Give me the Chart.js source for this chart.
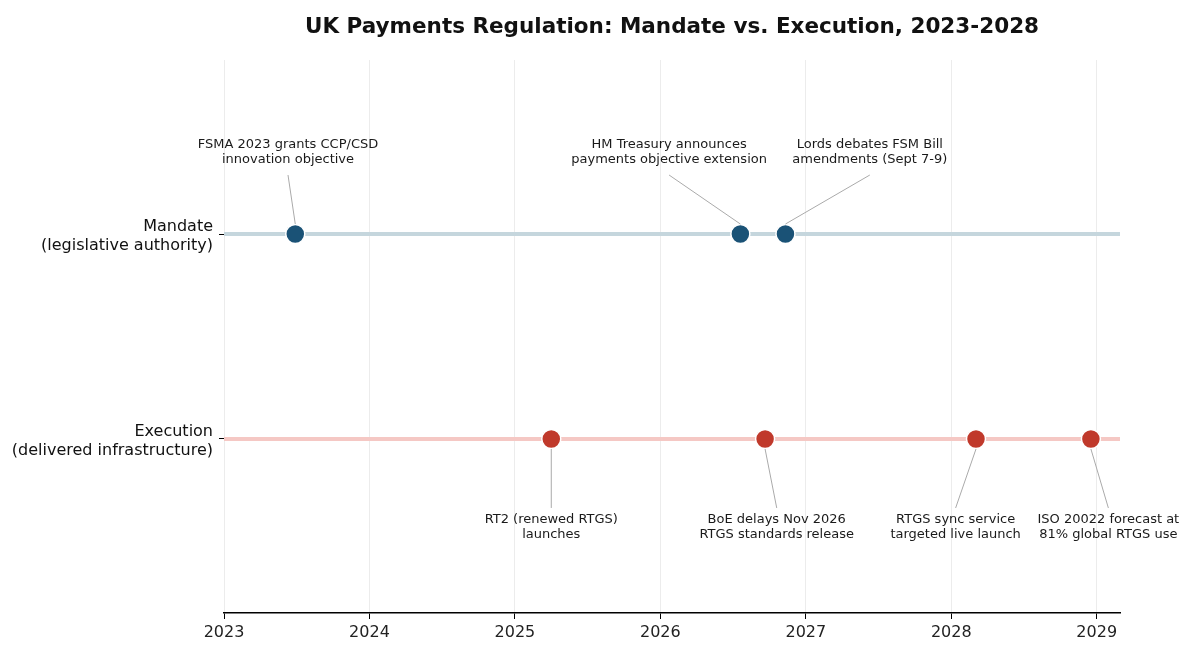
<!DOCTYPE html>
<html>
<head>
<meta charset="utf-8">
<script src="https://cdn.jsdelivr.net/npm/chart.js@4/dist/chart.umd.min.js"></script>
<style>
html,body{margin:0;padding:0;background:#fff;}
#wrap{width:1200px;height:660px;}
</style>
</head>
<body>
<div id="wrap"><canvas id="c" width="1200" height="660"></canvas></div>
<script>
// ---- data ----
const TITLE = "UK Payments Regulation: Mandate vs. Execution, 2023-2028";
const yearTicks = [2023, 2024, 2025, 2026, 2027, 2028, 2029];
const trackNames = ["Mandate", "Execution"];
const trackLabels = [["Mandate", "(legislative authority)"], ["Execution", "(delivered infrastructure)"]];
const xMin = 2023;
const xMax = 2029.16;

const mandateDates = [2023.49, 2026.55, 2026.86];
const mandateEvents = [
  ["FSMA 2023 grants CCP/CSD", "innovation objective"],
  ["HM Treasury announces", "payments objective extension"],
  ["Lords debates FSM Bill", "amendments (Sept 7-9)"]
];
const executionDates = [2025.25, 2026.72, 2028.17, 2028.96];
const executionEvents = [
  ["RT2 (renewed RTGS)", "launches"],
  ["BoE delays Nov 2026", "RTGS standards release"],
  ["RTGS sync service", "targeted live launch"],
  ["ISO 20022 forecast at", "81% global RTGS use"]
];
// label anchor x (in years) for each annotation
const mandateLabelX = [2023.44, 2026.06, 2027.44];
const executionLabelX = [2025.25, 2026.80, 2028.03, 2029.08];

// ---- styles ----
const MAND_COLOR = "#1a5276";
const EXEC_COLOR = "#c0392b";
const MAND_TRACK = "#c5d6dd";
const EXEC_TRACK = "#f5c8c4";
const FONT = "'DejaVu Sans', sans-serif";

const yMand = 1, yExec = 0;

const annotationPlugin = {
  id: 'ann',
  afterDatasetsDraw(chart) {
    const ctx = chart.ctx;
    const xs = chart.scales.x, ys = chart.scales.y;
    ctx.save();
    ctx.font = "13px " + FONT;
    ctx.textAlign = "center";
    ctx.textBaseline = "middle";
    mandateDates.forEach((d, i) => {
      const px = xs.getPixelForValue(d), py = ys.getPixelForValue(yMand);
      const lx = xs.getPixelForValue(mandateLabelX[i]);
      ctx.strokeStyle = "#aaaaaa"; ctx.lineWidth = 1;
      ctx.beginPath(); ctx.moveTo(lx, py - 59); ctx.lineTo(px, py - 10); ctx.stroke();
      ctx.fillStyle = "#1a1a1a";
      ctx.fillText(mandateEvents[i][0], lx, py - 89);
      ctx.fillText(mandateEvents[i][1], lx, py - 74);
    });
    executionDates.forEach((d, i) => {
      const px = xs.getPixelForValue(d), py = ys.getPixelForValue(yExec);
      const lx = xs.getPixelForValue(executionLabelX[i]);
      ctx.strokeStyle = "#aaaaaa"; ctx.lineWidth = 1;
      ctx.beginPath(); ctx.moveTo(px, py + 10); ctx.lineTo(lx, py + 69); ctx.stroke();
      ctx.fillStyle = "#1a1a1a";
      ctx.fillText(executionEvents[i][0], lx, py + 81);
      ctx.fillText(executionEvents[i][1], lx, py + 96);
    });
    ctx.restore();
  },
  afterDraw(chart) {
    const ctx = chart.ctx, ca = chart.chartArea;
    ctx.save();
    ctx.font = "bold 21.5px " + FONT;
    ctx.fillStyle = "#111";
    ctx.textAlign = "center";
    ctx.textBaseline = "middle";
    ctx.fillText(TITLE, (ca.left + ca.right) / 2, 27);
    ctx.restore();
  }
};

new Chart(document.getElementById('c'), {
  type: 'scatter',
  data: {
    datasets: [
      { label: 'Mandate track', type: 'line', data: [{x: xMin, y: yMand}, {x: xMax, y: yMand}],
        borderColor: MAND_TRACK, borderWidth: 4, pointRadius: 0, order: 3 },
      { label: 'Execution track', type: 'line', data: [{x: xMin, y: yExec}, {x: xMax, y: yExec}],
        borderColor: EXEC_TRACK, borderWidth: 4, pointRadius: 0, order: 3 },
      { label: trackNames[0], data: mandateDates.map(d => ({x: d, y: yMand})),
        backgroundColor: MAND_COLOR, borderColor: '#fff', borderWidth: 1.5, pointRadius: 9.5, order: 1 },
      { label: trackNames[1], data: executionDates.map(d => ({x: d, y: yExec})),
        backgroundColor: EXEC_COLOR, borderColor: '#fff', borderWidth: 1.5, pointRadius: 9.5, order: 1 }
    ]
  },
  options: {
    responsive: false,
    animation: false,
    events: [],
    layout: { padding: { top: 60, right: 80, left: 0, bottom: 0 } },
    plugins: { legend: { display: false }, tooltip: { enabled: false }, title: { display: false } },
    scales: {
      x: {
        type: 'linear', min: xMin, max: xMax,
        afterBuildTicks: s => { s.ticks = yearTicks.map(v => ({value: v})); },
        afterFit: s => { s.height = 47; },
        ticks: { font: { family: FONT, size: 16 }, color: '#222', padding: 4, maxRotation: 0,
                 callback: v => String(v) },
        grid: { color: '#ececec', lineWidth: 1, tickColor: '#000', tickLength: 6, drawTicks: true },
        border: { display: true, color: '#000', width: 1.5 }
      },
      y: {
        type: 'linear', min: -0.849, max: 1.849,
        afterBuildTicks: s => { s.ticks = [{value: yExec}, {value: yMand}]; },
        afterFit: s => { s.width = 224; },
        ticks: { font: { family: FONT, size: 16 }, color: '#111', padding: 6, labelOffset: 2,
                 callback: v => v === yMand ? trackLabels[0] : trackLabels[1] },
        grid: { drawOnChartArea: false, tickColor: '#000', tickLength: 5 },
        border: { display: false }
      }
    }
  },
  plugins: [annotationPlugin]
});
</script>
</body>
</html>
